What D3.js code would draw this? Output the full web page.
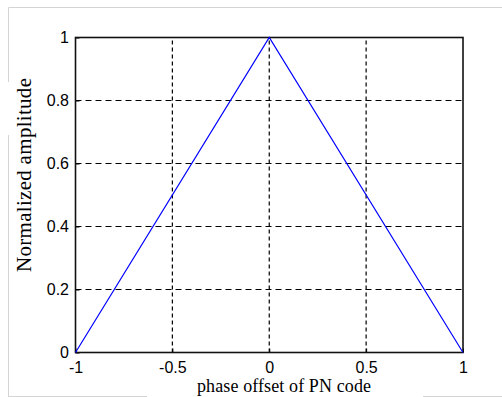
<!DOCTYPE html>
<html>
<head>
<meta charset="utf-8">
<script src="https://cdn.jsdelivr.net/npm/d3@7"></script>
<style>
  body { margin: 0; background: #fff; }
  svg { display: block; }
  .tick text { font-family: Arial, "Liberation Sans", sans-serif; font-size: 16px; fill: #000; }
  .lbl { font-family: "Times New Roman", "Liberation Serif", serif; fill: #000; }
</style>
</head>
<body>
<svg class="chart"></svg>
<script>
// correlation of PN code vs phase offset
var phaseOffset = [-1, 0, 1];
var amplitude = [0, 1, 0];
var xTicks = [-1, -0.5, 0, 0.5, 1];
var yTicks = [0, 0.2, 0.4, 0.6, 0.8, 1];

var width = 502, height = 397;
var svg = d3.select(".chart").attr("width", width).attr("height", height);

// light frame round the figure, broken where the labels sit
var frame = svg.append("g").attr("stroke", "#d4d4d4").attr("fill", "none");
frame.append("path").attr("d", "M8.5,396 V135 M8.5,82 V7.5 H502");
frame.append("path").attr("d", "M8,396.5 H147 M423,396.5 H502");

var x = d3.scaleLinear().domain([-1, 1]).range([75.5, 463]);
var y = d3.scaleLinear().domain([0, 1]).range([352.5, 37.5]);

// plain hyphen, like matlab does
var fmt = d => String(d);

// grid
var grid = svg.append("g").attr("stroke", "#000").attr("stroke-width", 1.2);
grid.selectAll(".vg")
  .data(xTicks.slice(1, -1))
  .enter().append("line")
  .attr("x1", d => x(d)).attr("x2", d => x(d))
  .attr("y1", y(0)).attr("y2", y(1))
  .attr("stroke-dasharray", "4,3");
grid.selectAll(".hg")
  .data(yTicks.slice(1, -1))
  .enter().append("line")
  .attr("x1", x(-1)).attr("x2", x(1))
  .attr("y1", d => y(d)).attr("y2", d => y(d))
  .attr("stroke-dasharray", "6,4");

// axes with inward ticks
svg.append("g")
  .attr("transform", "translate(0," + y(0) + ")")
  .call(d3.axisBottom(x).tickValues(xTicks).tickSizeInner(-4).tickSizeOuter(0).tickPadding(9.5)
    .tickFormat(fmt));
svg.append("g")
  .attr("transform", "translate(" + x(-1) + ",0)")
  .call(d3.axisLeft(y).tickValues(yTicks).tickSizeInner(-4).tickSizeOuter(0).tickPadding(6.5)
    .tickFormat(fmt));
svg.selectAll(".domain").remove();
svg.selectAll(".tick line").attr("stroke", "#000");

// box
svg.append("rect")
  .attr("x", x(-1)).attr("y", y(1))
  .attr("width", x(1) - x(-1)).attr("height", y(0) - y(1))
  .attr("fill", "none").attr("stroke", "#111").attr("stroke-width", 1.6);

// triangle
var line = d3.line().x((d, i) => x(phaseOffset[i])).y((d, i) => y(amplitude[i]));
svg.append("path")
  .datum(amplitude)
  .attr("d", line)
  .attr("fill", "none")
  .attr("stroke", "#0000ff")
  .attr("stroke-width", 1.2);

// labels
svg.append("text").attr("class", "lbl")
  .attr("x", 284).attr("y", 392)
  .attr("text-anchor", "middle")
  .style("font-size", "18px")
  .attr("textLength", 174)
  .text("phase offset of PN code");

svg.append("text").attr("class", "lbl")
  .attr("transform", "translate(31,175) rotate(-90)")
  .attr("text-anchor", "middle")
  .style("font-size", "21px")
  .attr("textLength", 194)
  .text("Normalized amplitude");
</script>
</body>
</html>
